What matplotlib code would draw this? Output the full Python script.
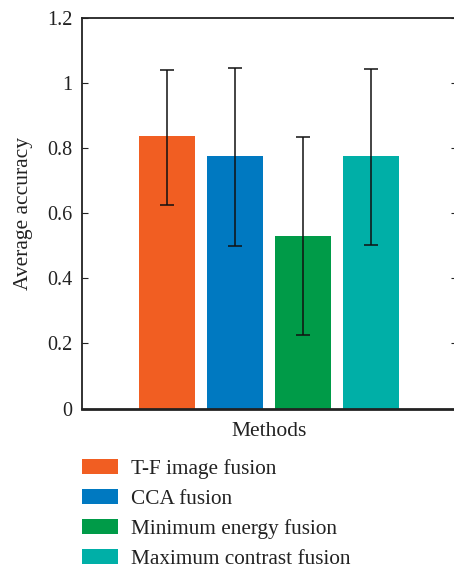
import matplotlib
matplotlib.use("Agg")
import matplotlib.pyplot as plt
import numpy as np

methods = ["T-F image fusion", "CCA fusion", "Minimum energy fusion", "Maximum contrast fusion"]
means = [0.837, 0.775, 0.531, 0.776]
err_low = [0.627, 0.499, 0.225, 0.504]
err_high = [1.042, 1.047, 0.834, 1.044]
colors = ["#F15E22", "#0079C1", "#009B48", "#00AFA7"]
yticks = [0, 0.2, 0.4, 0.6, 0.8, 1.0, 1.2]
ytick_labels = ["0", "0.2", "0.4", "0.6", "0.8", "1", "1.2"]

plt.rcParams['font.family'] = ['Liberation Serif', 'DejaVu Serif']

W, H = 454, 567
fig = plt.figure(figsize=(W / 100, H / 100), dpi=100)
ax = fig.add_axes([82 / W, 1 - 408.5 / H, (456.5 - 82) / W, (408.5 - 18.3) / H])

x = np.arange(len(methods))
handles = []
for i in range(len(methods)):
    b = ax.bar(x[i], means[i], width=0.82, color=colors[i], label=methods[i], zorder=2)
    handles.append(b)
    ax.errorbar(x[i], means[i],
                yerr=[[means[i] - err_low[i]], [err_high[i] - means[i]]],
                fmt='none', ecolor='#111111', elinewidth=1.1, capsize=4.8, capthick=1.1, zorder=3)

ax.set_xlim(-1.25, 4.25)
ax.set_ylim(0, 1.2)
ax.set_yticks(yticks)
ax.set_yticklabels(ytick_labels, fontsize=14.5)
ax.set_xticks([])
ax.tick_params(axis='y', direction='in', length=4, width=0.8, right=True, left=True, pad=7, colors='#222222')
for s in ax.spines.values():
    s.set_linewidth(1.3)
    s.set_color('#222222')
ax.spines['bottom'].set_linewidth(2.0)

ax.set_xlabel("Methods", fontsize=15.5, labelpad=10, color='#222222')
ax.set_ylabel("Average accuracy", fontsize=15.5, labelpad=10, color='#222222')

leg = fig.legend(handles=handles, labels=methods, loc='upper left',
                 bbox_to_anchor=(81.7 / W, 1 - 459 / H), frameon=False,
                 fontsize=15.3, handlelength=1.72, handleheight=0.7,
                 handletextpad=0.6, labelspacing=0.47, borderpad=0, borderaxespad=0)
for t in leg.get_texts():
    t.set_color('#222222')

fig.savefig("out.png", dpi=100)
